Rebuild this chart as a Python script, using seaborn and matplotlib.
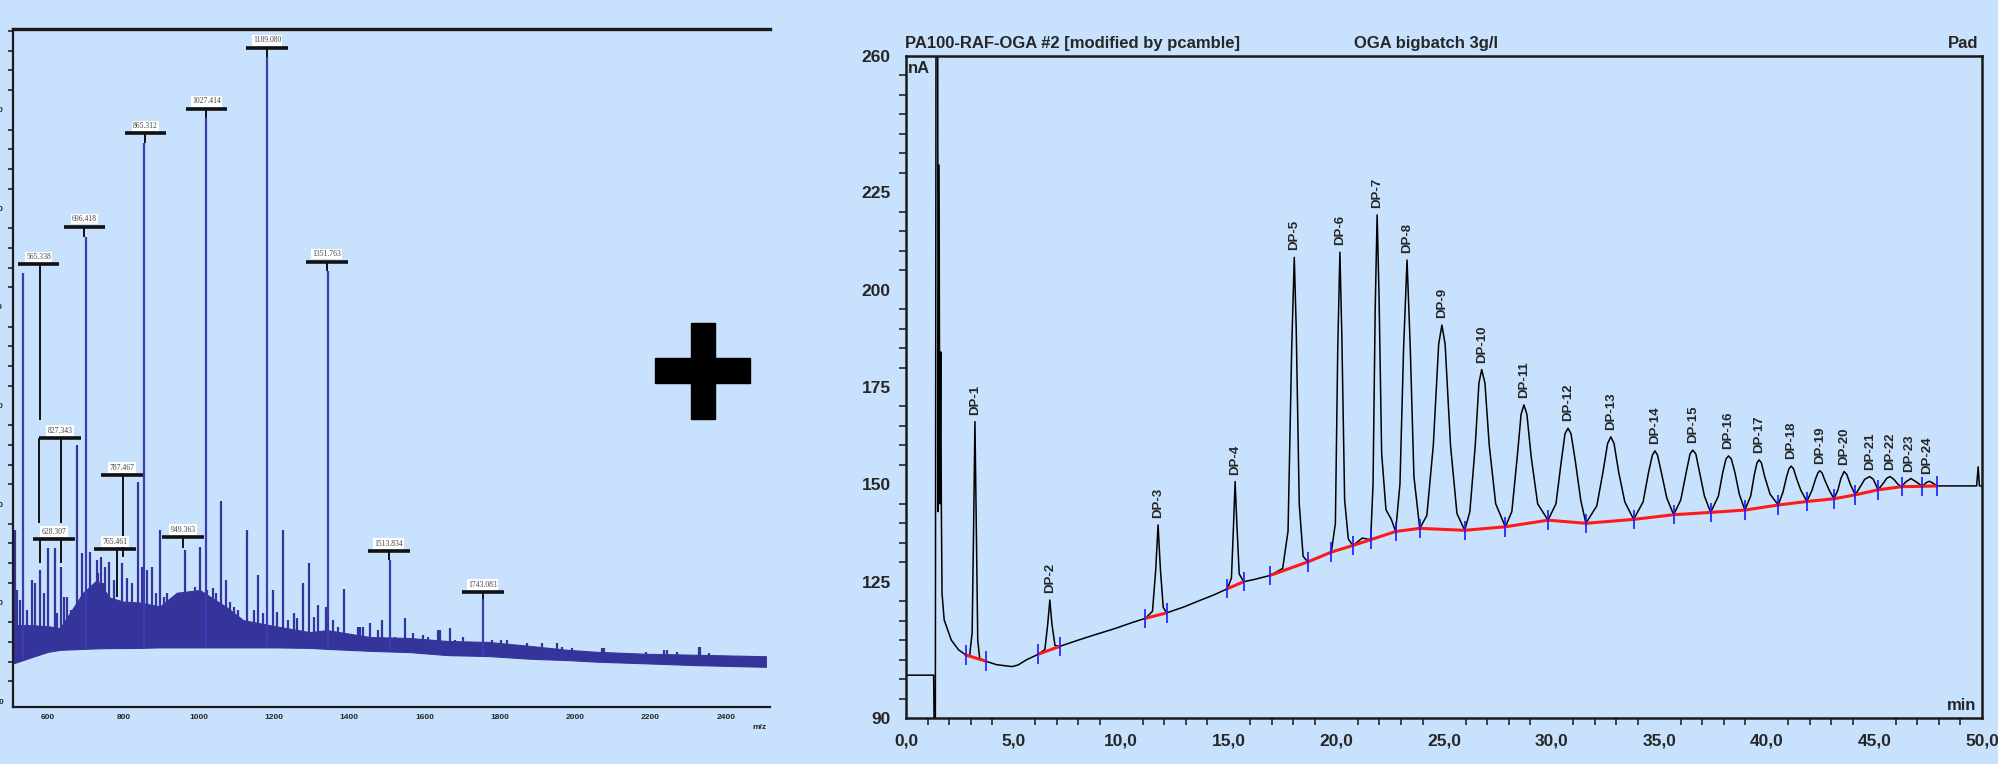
import numpy as np
import pandas as pd
import seaborn as sns
import matplotlib
matplotlib.use("Agg")
import matplotlib.pyplot as plt
from matplotlib.patches import Rectangle
from matplotlib.ticker import MultipleLocator, FuncFormatter

BG = "#c8e2fe"
SPEC_BLUE = "#34349a"

# ---------------- mass spectrum (left panel) ----------------
# noise band envelope
env_mz = [510, 560, 600, 632, 693, 730, 764, 800, 844, 897, 942, 1003, 1075, 1118,
          1203, 1295, 1341, 1455, 1561, 1660, 1770, 1879, 1980, 2057, 2190, 2321,
          2506]
env_low = [386, 450, 500, 520, 530, 535, 538, 538, 540, 545, 545, 545, 545, 545,
           545, 540, 530, 510, 497, 467, 457, 430, 416, 400, 383, 365, 348]
env_high = [772, 770, 760, 740, 1100, 1228, 1050, 1010, 1000, 960, 1100, 1127, 950,
            822, 760, 700, 720, 650, 640, 610, 600, 560, 520, 500, 480, 470, 455]

# main labelled peaks
peak_mz = [533.5, 700.8, 854.8, 1019.3, 1181.3, 1343.2, 1507.8, 1754.7]
peak_int = [4345, 4711, 5665, 5919, 6538, 4365, 1431, 1036]

# smaller spikes on top of the noise
spike_mz = [512, 517, 525, 545, 557, 565, 579, 589, 600, 619, 624, 634, 642, 650,
            660, 663, 677, 690, 711, 730, 733, 741, 747, 752, 762, 776, 782, 796,
            810, 822, 839, 849, 862, 876, 888, 897, 908, 917, 939, 941, 955, 964,
            984, 990, 1003, 1021, 1039, 1047, 1059, 1073, 1083, 1093, 1105, 1128,
            1146, 1157, 1172, 1198, 1207, 1212, 1224, 1238, 1252, 1260, 1277, 1293,
            1305, 1317, 1338, 1357, 1371, 1386, 1423, 1428, 1437, 1456, 1476,
            1486, 1522, 1548, 1569, 1595, 1608, 1635, 1641, 1667, 1681, 1702,
            1727, 1780, 1804, 1818, 1826, 1872, 1899, 1911, 1952, 1964, 1991,
            2071, 2077, 2189, 2236, 2243, 2269, 2328, 2332, 2355]
spike_int = [1736, 1127, 1025, 924, 1228, 1195, 1330, 1093, 1553, 1553, 890, 1360,
             1059, 1059, 924, 924, 2599, 1499, 1513, 1431, 1300, 1462, 1198, 1364,
             1411, 1228, 975, 1401, 1249, 1195, 2223, 1364, 1330, 1360, 1093, 1736,
             1059, 1093, 975, 890, 958, 1533, 873, 1161, 1563, 1127, 1147, 1093,
             2030, 1228, 1008, 958, 924, 1736, 924, 1279, 890, 1127, 907, 755, 1736,
             822, 890, 843, 1198, 1401, 856, 975, 958, 822, 755, 1137, 751, 754,
             755, 789, 721, 822, 653, 843, 687, 670, 653, 721, 721, 741, 619, 650,
             586, 619, 619, 619, 568, 586, 551, 589, 586, 548, 535, 538, 535, 501,
             518, 518, 501, 548, 551, 487]

# peak annotations: text, box centre, bar level, leader positions, leader end
lab_text = ["1189.080", "1027.414", "865.312", "696.418", "565.338", "1351.763",
            "827.343", "628.307", "787.467", "765.461", "949.363", "1513.834",
            "1743.083"]
lab_mz = [1181.3, 1020.7, 858.7, 696.3, 574.7, 1340.5, 631.8, 615.8, 796.4,
          777.8, 958.3, 1505.0, 1754.7]
lab_bar = [6629, 6010, 5763, 4815, 4433, 4460, 2670, 1645, 2294, 1543, 1665,
           1523, 1107]
lab_leader_mz = [[1181.3], [1020.7], [858.7], [696.3], [578.0], [1340.5],
                 [576.0, 634.4], [578.7, 634.4], [799.0], [783.0], [958.3],
                 [1505.0], [1754.7]]
lab_leader_end = [6538, 5919, 5665, 4711, 2853, 4365, 1807, 1401, 1462, 1056,
                  1553, 1431, 1036]

# ---------------- chromatogram (right panel) ----------------
chrom_t = [0.0, 1.28, 1.30, 1.36, 1.39, 1.47, 1.49, 1.53, 1.57, 1.61, 1.64, 1.67,
           1.77, 2.1, 2.44, 2.77,
           2.95, 3.07, 3.14, 3.2, 3.26, 3.33, 3.42, 3.70,
           4.2, 4.92, 5.2, 5.58, 6.15,
           6.45, 6.58, 6.68, 6.78, 6.92, 7.14,
           8.0, 8.73, 9.72, 10.5, 11.12,
           11.45, 11.6, 11.71, 11.82, 11.95, 12.11,
           12.9, 13.7, 14.3, 14.93,
           15.12, 15.22, 15.29, 15.37, 15.48, 15.69,
           16.2, 16.91,
           17.5, 17.75, 17.92, 18.04, 18.13, 18.27, 18.45, 18.67,
           19.2, 19.76,
           19.95, 20.06, 20.16, 20.25, 20.38, 20.55, 20.76,
           21.2, 21.59,
           21.7, 21.8, 21.89, 21.98, 22.1, 22.3, 22.55, 22.75,
           22.95, 23.12, 23.28, 23.43, 23.6, 23.87,
           24.2, 24.5, 24.75, 24.9, 25.05, 25.3, 25.6, 25.96,
           26.2, 26.45, 26.62, 26.75, 26.9, 27.1, 27.4, 27.85,
           28.15, 28.4, 28.58, 28.71, 28.85, 29.05, 29.35, 29.83,
           30.2, 30.45, 30.62, 30.76, 30.9, 31.1, 31.35, 31.59,
           32.1, 32.38, 32.6, 32.75, 32.9, 33.12, 33.4, 33.81,
           34.25, 34.5, 34.68, 34.8, 34.92, 35.1, 35.35, 35.67,
           36.0, 36.25, 36.43, 36.56, 36.7, 36.88, 37.1, 37.39,
           37.75, 37.95, 38.1, 38.22, 38.35, 38.52, 38.72, 38.98,
           39.25, 39.42, 39.54, 39.64, 39.75, 39.9, 40.15, 40.53,
           40.75, 40.92, 41.03, 41.13, 41.24, 41.38, 41.58, 41.86,
           42.1, 42.27, 42.38, 42.46, 42.56, 42.7, 42.9, 43.12,
           43.3, 43.44, 43.59, 43.72, 43.88, 44.11,
           44.35, 44.55, 44.78, 44.95, 45.17,
           45.4, 45.58, 45.73, 45.9, 46.1, 46.26,
           46.45, 46.7, 46.95, 47.23,
           47.4, 47.55, 47.72, 47.92,
           49.75, 49.82, 49.88, 50.0]
chrom_v = [101.0, 101.0, 90.0, 90.0, 262, 262, 143, 232, 145, 184, 143, 122,
           115.2, 110, 107.5, 106.2,
           105.8, 112, 140, 166.1, 140, 110, 105.3, 104.6,
           103.7, 103.2, 103.6, 104.9, 106.4,
           107.6, 114, 120.3, 114, 108.6, 108.4,
           110, 111.3, 113, 114.5, 115.6,
           117.4, 128, 139.6, 128, 118.4, 117.0,
           118.5, 120.3, 121.6, 123.2,
           126, 140, 150.7, 140, 127, 125.0,
           125.6, 126.6,
           128.4, 138, 185, 208.3, 190, 145, 131.5, 130.1,
           131.2, 132.6,
           140, 185, 209.6, 188, 146, 136, 134.3,
           136.2, 135.8,
           150, 195, 219.2, 198, 158, 143.5, 141, 137.9,
           150, 185, 207.6, 185, 152, 138.7,
           142, 160, 186, 190.9, 186, 160, 142.5, 138.2,
           143, 160, 176, 179.5, 176, 160, 145, 139.1,
           143, 157, 168, 170.4, 168, 157, 145, 140.8,
           145, 156, 163, 164.4, 163, 156, 146, 140.0,
           144.5, 153, 160.5, 162.2, 160.5, 153, 145.5, 141.0,
           145.5, 153, 157.5, 158.6, 157.5, 153, 146.5, 142.2,
           146, 153, 157.8, 158.8, 157.8, 153, 147, 142.8,
           147, 153, 156.5, 157.3, 156.5, 153, 147.5, 143.4,
           147, 152.5, 155.5, 156.3, 155.5, 152, 147.5, 144.7,
           148, 152, 154, 154.7, 154, 151.5, 148.5, 145.6,
           148.5, 151.5, 153, 153.5, 153, 151, 148.5, 146.3,
           148.5, 151.5, 153.3, 152.5, 150, 147.3,
           149.5, 151.3, 152, 151.3, 148.6,
           150.2, 151.6, 152, 151.3, 150, 149.4,
           150.6, 151.5, 150.6, 149.5,
           150.4, 150.8, 150.3, 149.6,
           149.6, 154.5, 149.6, 149.6]

# integration baseline (red) and its peak start/end marks (blue)
base_seg = [0, 0, 1, 1, 2, 2, 3, 3] + [4] * 23
base_t = [2.77, 3.70, 6.15, 7.14, 11.12, 12.11, 14.93, 15.69,
          16.91, 18.67, 19.76, 20.76, 21.59, 22.75, 23.87, 25.96, 27.85, 29.83,
          31.59, 33.81, 35.67, 37.39, 38.98, 40.53, 41.86, 43.12, 44.11, 45.17,
          46.26, 47.23, 47.92]
base_v = [106.2, 104.6, 106.4, 108.4, 115.6, 117.0, 123.2, 125.0,
          126.6, 130.1, 132.6, 134.3, 135.8, 137.9, 138.7, 138.2, 139.1, 140.8,
          140.0, 141.0, 142.2, 142.8, 143.4, 144.7, 145.6, 146.3, 147.3, 148.6,
          149.4, 149.5, 149.6]

dp_names = ["DP-%d" % i for i in range(1, 25)]
dp_rt = [3.2, 6.68, 11.71, 15.29, 18.04, 20.16, 21.89, 23.28, 24.9, 26.75, 28.71,
         30.76, 32.75, 34.8, 36.56, 38.22, 39.64, 41.13, 42.46, 43.59, 44.78,
         45.73, 46.6, 47.45]
dp_apex = [166.1, 120.3, 139.6, 150.7, 208.3, 209.6, 219.2, 207.6, 190.9, 179.5,
           170.4, 164.4, 162.2, 158.6, 158.8, 157.3, 156.3, 154.7, 153.5, 153.3,
           152.0, 152.0, 151.5, 150.8]

y_ticks = [90, 125, 150, 175, 200, 225, 260]

# ---------------- figure ----------------
sns.set_style("white")
plt.rcParams["font.family"] = ["Liberation Sans", "DejaVu Sans"]

fig = plt.figure(figsize=(19.98, 7.64), dpi=100, facecolor=BG)
ax1 = fig.add_axes([0.0065, 0.0746, 0.3789, 0.8874], facecolor=BG)
ax2 = fig.add_axes([0.4535, 0.0602, 0.5385, 0.8665], facecolor=BG)

# left: spectrum
ax1.fill_between(env_mz, env_low, env_high, color=SPEC_BLUE, lw=0.8)
spike_base = np.interp(spike_mz, env_mz, env_low)
ax1.vlines(spike_mz, spike_base, spike_int, color=SPEC_BLUE, lw=1.6)
peak_base = np.interp(peak_mz, env_mz, env_low)
ax1.vlines(peak_mz, peak_base, peak_int, color="#3c3cb0", lw=1.6)

for txt, x, bar, legs, end in zip(lab_text, lab_mz, lab_bar, lab_leader_mz, lab_leader_end):
    ax1.vlines(legs, end, bar, color="#111111", lw=1.4)
    ax1.hlines(bar, x - 55, x + 55, color="#111111", lw=2.6)
    ax1.annotate(txt, xy=(x, bar), xytext=(0, 2.5), textcoords="offset points",
                 ha="center", va="bottom", fontsize=5.5, family="Liberation Serif",
                 color="#444444",
                 bbox=dict(boxstyle="square,pad=0.15", fc="white", ec="none"))

ax1.set_xlim(507, 2517)
ax1.set_ylim(-60, 6820)
ax1.set_xticks(range(600, 2401, 200))
ax1.set_yticks(range(0, 6001, 1000))
ax1.yaxis.set_minor_locator(MultipleLocator(200))
ax1.tick_params(axis="x", which="major", direction="out", length=4, width=1.5,
                labelsize=6, pad=1)
ax1.tick_params(axis="y", which="major", direction="out", length=6, width=1.5,
                labelsize=6, pad=1)
ax1.tick_params(axis="y", which="minor", direction="out", length=3.5, width=1.2,
                left=True)
for lab in ax1.get_xticklabels() + ax1.get_yticklabels():
    lab.set_fontweight("bold")
ax1.spines["right"].set_visible(False)
ax1.spines["top"].set_linewidth(2.4)
ax1.spines["left"].set_linewidth(1.6)
ax1.spines["bottom"].set_linewidth(1.6)
for s in ax1.spines.values():
    s.set_color("#1a1a1a")
fig.text(0.38, 0.048, "m/z", fontsize=6, fontweight="bold", ha="center", va="center")

# right: chromatogram
trace = pd.DataFrame({"t": chrom_t, "v": chrom_v})
sns.lineplot(data=trace, x="t", y="v", sort=False, estimator=None, color="black",
             lw=1.1, ax=ax2)
base = pd.DataFrame({"t": base_t, "v": base_v, "seg": base_seg})
sns.lineplot(data=base, x="t", y="v", units="seg", estimator=None, sort=False,
             color="#ff1a1a", lw=2.2, ax=ax2, legend=False)
ax2.vlines(base_t, np.array(base_v) - 2.5, np.array(base_v) + 2.5, color="#1a1aff", lw=1.2)

for name, t, v in zip(dp_names, dp_rt, dp_apex):
    ax2.annotate(name, xy=(t, v), xytext=(0, 5), textcoords="offset points",
                 rotation=90, ha="center", va="bottom", fontsize=9.5, fontweight="bold")

ax2.set_xlim(0, 50)
ax2.set_ylim(90, 260)
ax2.set_xlabel("")
ax2.set_ylabel("")
ax2.xaxis.set_major_locator(MultipleLocator(5))
ax2.xaxis.set_minor_locator(MultipleLocator(1))
ax2.xaxis.set_major_formatter(FuncFormatter(lambda x, p: ("%.1f" % x).replace(".", ",")))
ax2.set_yticks(y_ticks)
ax2.yaxis.set_minor_locator(MultipleLocator(5))
ax2.tick_params(which="major", direction="out", length=8, width=1.4, labelsize=12.5, pad=3)
ax2.tick_params(which="minor", direction="out", length=5, width=1.2, bottom=True, left=True)
for lab in ax2.get_xticklabels() + ax2.get_yticklabels():
    lab.set_fontweight("bold")
for s in ax2.spines.values():
    s.set_linewidth(1.8)
    s.set_color("#1a1a1a")

ax2.text(0.002, 0.992, "nA", transform=ax2.transAxes, ha="left", va="top",
         fontsize=12, fontweight="bold")
ax2.text(0.995, 0.008, "min", transform=ax2.transAxes, ha="right", va="bottom",
         fontsize=12, fontweight="bold")

fig.text(0.453, 0.9437, "PA100-RAF-OGA #2 [modified by pcamble]", ha="left",
         va="center", fontsize=12, fontweight="bold")
fig.text(0.6777, 0.9437, "OGA bigbatch 3g/l", ha="left", va="center",
         fontsize=12, fontweight="bold")
fig.text(0.990, 0.9437, "Pad", ha="right", va="center", fontsize=12, fontweight="bold")

# the big "+" between the two panels
fig.add_artist(Rectangle((655 / 1998, 1 - 383 / 764), 95 / 1998, 25 / 764,
                         transform=fig.transFigure, color="black", zorder=10))
fig.add_artist(Rectangle((690.5 / 1998, 1 - 418.5 / 764), 24 / 1998, 96 / 764,
                         transform=fig.transFigure, color="black", zorder=10))

fig.savefig("out.png", dpi=100, facecolor=BG)
